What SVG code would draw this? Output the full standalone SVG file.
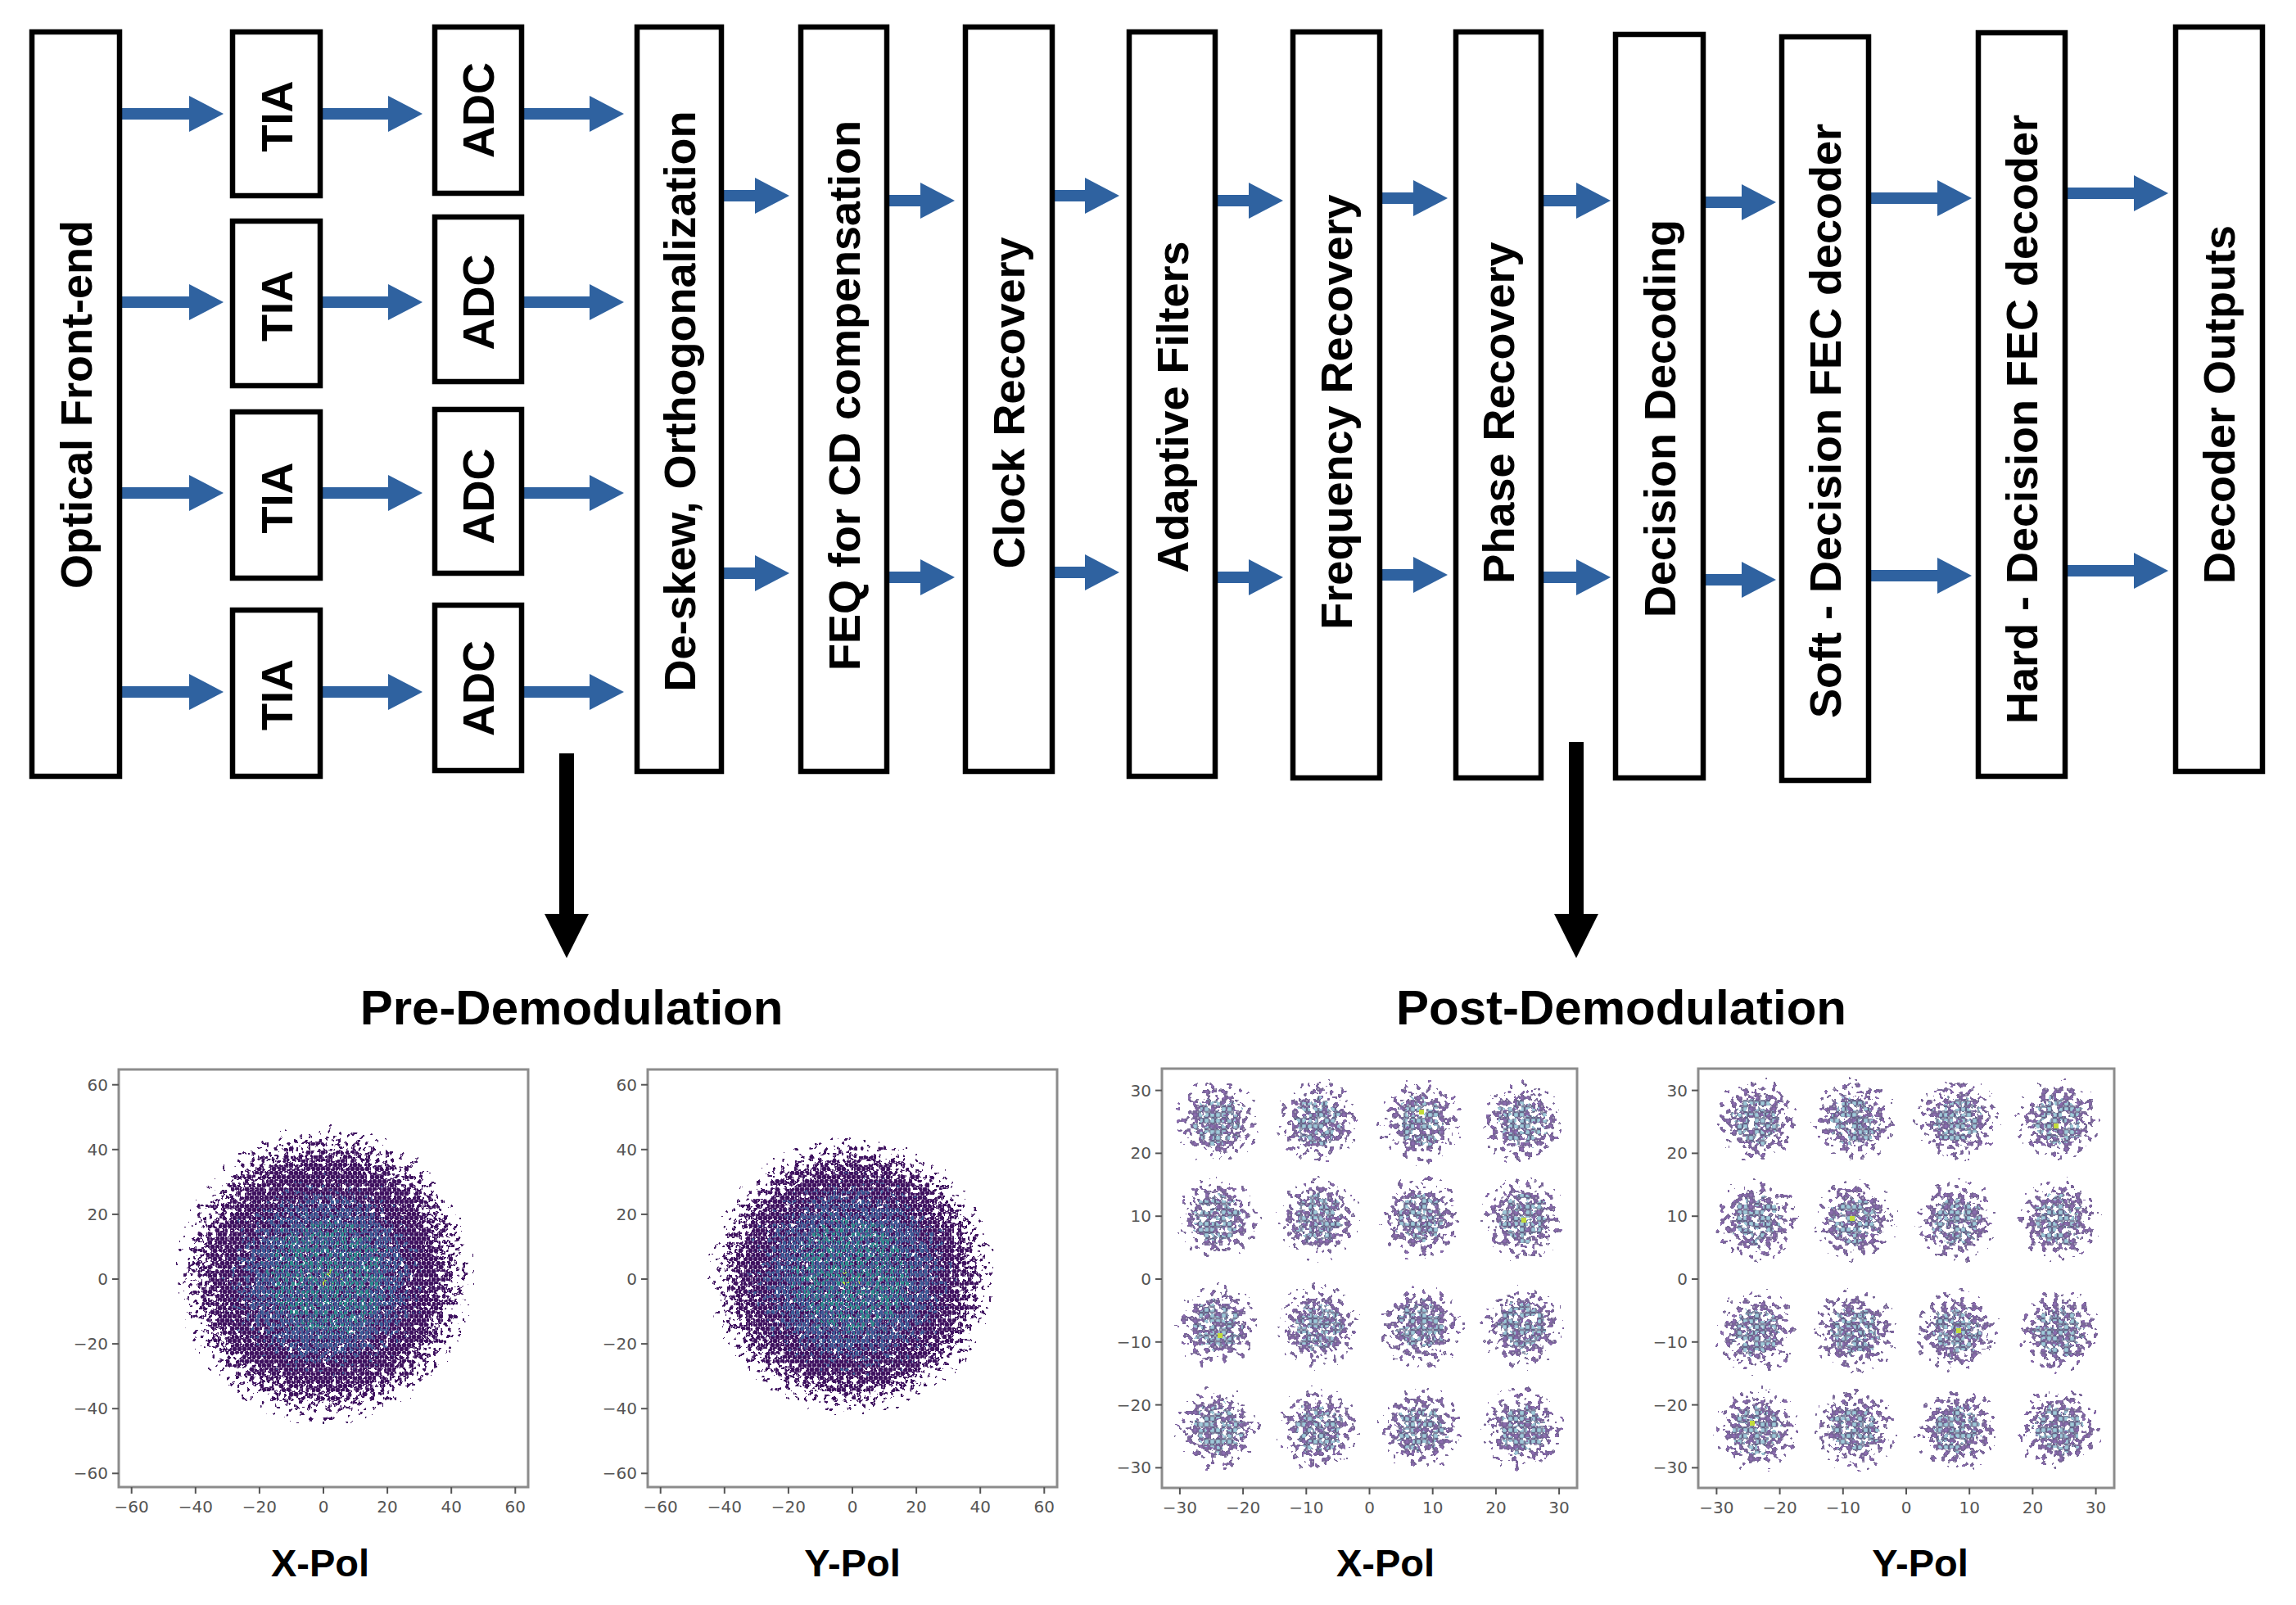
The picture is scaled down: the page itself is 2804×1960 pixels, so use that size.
<svg xmlns="http://www.w3.org/2000/svg" width="2804" height="1960" viewBox="0 0 2804 1960">
<style>
.box{fill:#fff;stroke:#000;stroke-width:6.5}
.lbl{font-family:"Liberation Sans",Arial,sans-serif;font-weight:bold;font-size:54px;fill:#000;text-anchor:middle}
.conn{stroke:#2f62a0;stroke-width:14;fill:none;marker-end:url(#ah)}
.down{stroke:#000;stroke-width:18;fill:none;marker-end:url(#bh)}
.tick{stroke:#555;stroke-width:2}
.tl{font-family:"DejaVu Sans",sans-serif;font-size:20px;fill:#555}
.tr{text-anchor:end}
.tc{text-anchor:middle}
.frame{fill:none;stroke:#8c8c8c;stroke-width:3}
.title{font-family:"Liberation Sans",Arial,sans-serif;font-weight:bold;font-size:60px;fill:#000;text-anchor:middle}
.pol{font-family:"Liberation Sans",Arial,sans-serif;font-weight:bold;font-size:47px;fill:#000;text-anchor:middle}
</style>
<defs>
<marker id="ah" markerUnits="userSpaceOnUse" markerWidth="42" markerHeight="44" viewBox="0 0 42 44" refX="1" refY="22" orient="auto"><path d="M0,0 L42,22 L0,44 Z" fill="#2f62a0"/></marker>
<marker id="bh" markerUnits="userSpaceOnUse" markerWidth="54" markerHeight="54" viewBox="0 0 54 54" refX="1" refY="27" orient="auto"><path d="M0,0 L54,27 L0,54 Z" fill="#000"/></marker>
<radialGradient id="gOut"><stop offset="0" stop-color="#fff" stop-opacity="1"/><stop offset="0.66" stop-color="#fff" stop-opacity="1"/><stop offset="0.85" stop-color="#fff" stop-opacity="0.5"/><stop offset="1" stop-color="#fff" stop-opacity="0"/></radialGradient>
<radialGradient id="gMid"><stop offset="0" stop-color="#fff" stop-opacity="1"/><stop offset="0.55" stop-color="#fff" stop-opacity="0.95"/><stop offset="1" stop-color="#fff" stop-opacity="0"/></radialGradient>
<radialGradient id="gIn"><stop offset="0" stop-color="#fff" stop-opacity="1"/><stop offset="1" stop-color="#fff" stop-opacity="0"/></radialGradient>
<radialGradient id="gPost"><stop offset="0" stop-color="#fff" stop-opacity="1"/><stop offset="0.5" stop-color="#fff" stop-opacity="0.9"/><stop offset="0.78" stop-color="#fff" stop-opacity="0.55"/><stop offset="1" stop-color="#fff" stop-opacity="0"/></radialGradient>
<filter id="fA" color-interpolation-filters="sRGB"><feTurbulence type="fractalNoise" baseFrequency="0.17" numOctaves="2" seed="2" result="n"/><feColorMatrix in="n" type="matrix" values="0 0 0 0 0 0 0 0 0 0 0 0 0 0 0 2.2 0 0 0 -0.6" result="na"/><feComposite in="SourceAlpha" in2="na" operator="arithmetic" k1="0" k2="1" k3="1" k4="-0.6" result="c"/><feComponentTransfer in="c"><feFuncR type="linear" slope="0" intercept="1"/><feFuncG type="linear" slope="0" intercept="1"/><feFuncB type="linear" slope="0" intercept="1"/><feFuncA type="discrete" tableValues="0 1"/></feComponentTransfer></filter>
<filter id="fB" color-interpolation-filters="sRGB"><feTurbulence type="fractalNoise" baseFrequency="0.17" numOctaves="2" seed="5" result="n"/><feColorMatrix in="n" type="matrix" values="0 0 0 0 0 0 0 0 0 0 0 0 0 0 0 1.6 0 0 0 -0.3" result="na"/><feComposite in="SourceAlpha" in2="na" operator="arithmetic" k1="0" k2="1" k3="1" k4="-0.85" result="c"/><feComponentTransfer in="c"><feFuncR type="linear" slope="0" intercept="1"/><feFuncG type="linear" slope="0" intercept="1"/><feFuncB type="linear" slope="0" intercept="1"/><feFuncA type="discrete" tableValues="0 1"/></feComponentTransfer></filter>
<filter id="fC" color-interpolation-filters="sRGB"><feTurbulence type="fractalNoise" baseFrequency="0.17" numOctaves="2" seed="9" result="n"/><feColorMatrix in="n" type="matrix" values="0 0 0 0 0 0 0 0 0 0 0 0 0 0 0 1.6 0 0 0 -0.3" result="na"/><feComposite in="SourceAlpha" in2="na" operator="arithmetic" k1="0" k2="1" k3="1" k4="-1.0" result="c"/><feComponentTransfer in="c"><feFuncR type="linear" slope="0" intercept="1"/><feFuncG type="linear" slope="0" intercept="1"/><feFuncB type="linear" slope="0" intercept="1"/><feFuncA type="discrete" tableValues="0 1"/></feComponentTransfer></filter>
<filter id="fD" color-interpolation-filters="sRGB"><feTurbulence type="fractalNoise" baseFrequency="0.17" numOctaves="2" seed="13" result="n"/><feColorMatrix in="n" type="matrix" values="0 0 0 0 0 0 0 0 0 0 0 0 0 0 0 1.6 0 0 0 -0.3" result="na"/><feComposite in="SourceAlpha" in2="na" operator="arithmetic" k1="0" k2="1" k3="1" k4="-1.2" result="c"/><feComponentTransfer in="c"><feFuncR type="linear" slope="0" intercept="1"/><feFuncG type="linear" slope="0" intercept="1"/><feFuncB type="linear" slope="0" intercept="1"/><feFuncA type="discrete" tableValues="0 1"/></feComponentTransfer></filter>
<filter id="fE" color-interpolation-filters="sRGB"><feTurbulence type="fractalNoise" baseFrequency="0.14" numOctaves="2" seed="21" result="n"/><feColorMatrix in="n" type="matrix" values="0 0 0 0 0 0 0 0 0 0 0 0 0 0 0 2.0 0 0 0 -0.5" result="na"/><feComposite in="SourceAlpha" in2="na" operator="arithmetic" k1="0" k2="1" k3="1" k4="-0.9" result="c"/><feComponentTransfer in="c"><feFuncR type="linear" slope="0" intercept="1"/><feFuncG type="linear" slope="0" intercept="1"/><feFuncB type="linear" slope="0" intercept="1"/><feFuncA type="discrete" tableValues="0 1"/></feComponentTransfer></filter>
<filter id="fF" color-interpolation-filters="sRGB"><feTurbulence type="fractalNoise" baseFrequency="0.14" numOctaves="2" seed="27" result="n"/><feColorMatrix in="n" type="matrix" values="0 0 0 0 0 0 0 0 0 0 0 0 0 0 0 1.6 0 0 0 -0.3" result="na"/><feComposite in="SourceAlpha" in2="na" operator="arithmetic" k1="0" k2="1" k3="1" k4="-0.95" result="c"/><feComponentTransfer in="c"><feFuncR type="linear" slope="0" intercept="1"/><feFuncG type="linear" slope="0" intercept="1"/><feFuncB type="linear" slope="0" intercept="1"/><feFuncA type="discrete" tableValues="0 1"/></feComponentTransfer></filter>
<pattern id="pPreP" width="6" height="10" patternUnits="userSpaceOnUse"><circle cx="1.5" cy="2.5" r="2.9" fill="#3f1260"/><circle cx="4.5" cy="7.5" r="2.9" fill="#3f1260"/><circle cx="7.5" cy="2.5" r="2.9" fill="#3f1260"/><circle cx="-1.5" cy="7.5" r="2.9" fill="#3f1260"/></pattern>
<pattern id="pPreB" width="6" height="10" patternUnits="userSpaceOnUse"><circle cx="1.5" cy="2.5" r="2.7" fill="#3a5b95"/><circle cx="4.5" cy="7.5" r="2.7" fill="#3a5b95"/></pattern>
<pattern id="pPreT" width="6" height="10" patternUnits="userSpaceOnUse"><circle cx="1.5" cy="2.5" r="2.7" fill="#2a8c8c"/><circle cx="4.5" cy="7.5" r="2.7" fill="#2a8c8c"/></pattern>
<pattern id="pPreY" width="6" height="10" patternUnits="userSpaceOnUse"><circle cx="1.5" cy="2.5" r="2.7" fill="#8fd04a"/><circle cx="4.5" cy="7.5" r="2.7" fill="#b9dc3a"/></pattern>
<pattern id="pPostP" width="7" height="7" patternUnits="userSpaceOnUse"><rect x="0.75" y="0.75" width="5.5" height="5.5" fill="#8a6dac" stroke="#4e3a74" stroke-width="0.9"/></pattern>
<pattern id="pPostT" width="7" height="7" patternUnits="userSpaceOnUse"><rect x="0.75" y="0.75" width="5.5" height="5.5" fill="#9fc9d8" stroke="#55557a" stroke-width="0.9"/></pattern>
<mask id="mP1a"><g filter="url(#fA)"><ellipse cx="397" cy="1557" rx="188" ry="190" fill="url(#gOut)"/></g></mask>
<mask id="mP1b"><g filter="url(#fB)"><ellipse cx="397" cy="1560" rx="160" ry="160" fill="url(#gMid)"/></g></mask>
<mask id="mP1c"><g filter="url(#fC)"><ellipse cx="400" cy="1560" rx="115" ry="115" fill="url(#gMid)"/></g></mask>
<mask id="mP1d"><g filter="url(#fD)"><ellipse cx="400" cy="1560" rx="80" ry="80" fill="url(#gIn)"/></g></mask>
<mask id="mP2a"><g filter="url(#fA)"><ellipse cx="1040" cy="1558" rx="182" ry="176" fill="url(#gOut)"/></g></mask>
<mask id="mP2b"><g filter="url(#fB)"><ellipse cx="1040" cy="1558" rx="165" ry="160" fill="url(#gMid)"/></g></mask>
<mask id="mP2c"><g filter="url(#fC)"><ellipse cx="1040" cy="1558" rx="115" ry="115" fill="url(#gMid)"/></g></mask>
<mask id="mP2d"><g filter="url(#fD)"><ellipse cx="1040" cy="1558" rx="80" ry="80" fill="url(#gIn)"/></g></mask>
<mask id="mQ3a"><g filter="url(#fE)" fill="url(#gPost)">
<circle cx="1487" cy="1370" r="64"/><circle cx="1610" cy="1370" r="64"/><circle cx="1735" cy="1370" r="64"/><circle cx="1860" cy="1370" r="64"/>
<circle cx="1487" cy="1488" r="64"/><circle cx="1610" cy="1488" r="64"/><circle cx="1735" cy="1488" r="64"/><circle cx="1860" cy="1488" r="64"/>
<circle cx="1487" cy="1620" r="64"/><circle cx="1610" cy="1620" r="64"/><circle cx="1735" cy="1620" r="64"/><circle cx="1860" cy="1620" r="64"/>
<circle cx="1487" cy="1745" r="64"/><circle cx="1610" cy="1745" r="64"/><circle cx="1735" cy="1745" r="64"/><circle cx="1860" cy="1745" r="64"/>
</g></mask>
<mask id="mQ3b"><g filter="url(#fF)" fill="url(#gMid)">
<circle cx="1487" cy="1370" r="45"/><circle cx="1610" cy="1370" r="45"/><circle cx="1735" cy="1370" r="45"/><circle cx="1860" cy="1370" r="45"/>
<circle cx="1487" cy="1488" r="45"/><circle cx="1610" cy="1488" r="45"/><circle cx="1735" cy="1488" r="45"/><circle cx="1860" cy="1488" r="45"/>
<circle cx="1487" cy="1620" r="45"/><circle cx="1610" cy="1620" r="45"/><circle cx="1735" cy="1620" r="45"/><circle cx="1860" cy="1620" r="45"/>
<circle cx="1487" cy="1745" r="45"/><circle cx="1610" cy="1745" r="45"/><circle cx="1735" cy="1745" r="45"/><circle cx="1860" cy="1745" r="45"/>
</g></mask>
<mask id="mQ4a"><g filter="url(#fE)" fill="url(#gPost)">
<circle cx="2145" cy="1368" r="64"/><circle cx="2265" cy="1368" r="64"/><circle cx="2390" cy="1368" r="64"/><circle cx="2514" cy="1368" r="64"/>
<circle cx="2145" cy="1490" r="64"/><circle cx="2265" cy="1490" r="64"/><circle cx="2390" cy="1490" r="64"/><circle cx="2514" cy="1490" r="64"/>
<circle cx="2145" cy="1626" r="64"/><circle cx="2265" cy="1626" r="64"/><circle cx="2390" cy="1626" r="64"/><circle cx="2514" cy="1626" r="64"/>
<circle cx="2145" cy="1745" r="64"/><circle cx="2265" cy="1745" r="64"/><circle cx="2390" cy="1745" r="64"/><circle cx="2514" cy="1745" r="64"/>
</g></mask>
<mask id="mQ4b"><g filter="url(#fF)" fill="url(#gMid)">
<circle cx="2145" cy="1368" r="45"/><circle cx="2265" cy="1368" r="45"/><circle cx="2390" cy="1368" r="45"/><circle cx="2514" cy="1368" r="45"/>
<circle cx="2145" cy="1490" r="45"/><circle cx="2265" cy="1490" r="45"/><circle cx="2390" cy="1490" r="45"/><circle cx="2514" cy="1490" r="45"/>
<circle cx="2145" cy="1626" r="45"/><circle cx="2265" cy="1626" r="45"/><circle cx="2390" cy="1626" r="45"/><circle cx="2514" cy="1626" r="45"/>
<circle cx="2145" cy="1745" r="45"/><circle cx="2265" cy="1745" r="45"/><circle cx="2390" cy="1745" r="45"/><circle cx="2514" cy="1745" r="45"/>
</g></mask>
</defs>
<rect x="0" y="0" width="2804" height="1960" fill="#fff"/>

<g id="connectors">
<line class="conn" x1="146" y1="139" x2="232" y2="139"/>
<line class="conn" x1="146" y1="369" x2="232" y2="369"/>
<line class="conn" x1="146" y1="602" x2="232" y2="602"/>
<line class="conn" x1="146" y1="845" x2="232" y2="845"/>
<line class="conn" x1="391" y1="139" x2="475" y2="139"/>
<line class="conn" x1="391" y1="369" x2="475" y2="369"/>
<line class="conn" x1="391" y1="602" x2="475" y2="602"/>
<line class="conn" x1="391" y1="845" x2="475" y2="845"/>
<line class="conn" x1="637" y1="139" x2="721" y2="139"/>
<line class="conn" x1="637" y1="369" x2="721" y2="369"/>
<line class="conn" x1="637" y1="602" x2="721" y2="602"/>
<line class="conn" x1="637" y1="845" x2="721" y2="845"/>
<line class="conn" x1="881" y1="239" x2="923" y2="239"/>
<line class="conn" x1="881" y1="700" x2="923" y2="700"/>
<line class="conn" x1="1083" y1="245" x2="1125" y2="245"/>
<line class="conn" x1="1083" y1="705" x2="1125" y2="705"/>
<line class="conn" x1="1285" y1="239" x2="1326" y2="239"/>
<line class="conn" x1="1285" y1="699" x2="1326" y2="699"/>
<line class="conn" x1="1484" y1="245" x2="1526" y2="245"/>
<line class="conn" x1="1484" y1="705" x2="1526" y2="705"/>
<line class="conn" x1="1685" y1="242" x2="1727" y2="242"/>
<line class="conn" x1="1685" y1="702" x2="1727" y2="702"/>
<line class="conn" x1="1882" y1="245" x2="1926" y2="245"/>
<line class="conn" x1="1882" y1="705" x2="1926" y2="705"/>
<line class="conn" x1="2080" y1="247" x2="2128" y2="247"/>
<line class="conn" x1="2080" y1="708" x2="2128" y2="708"/>
<line class="conn" x1="2282" y1="242" x2="2367" y2="242"/>
<line class="conn" x1="2282" y1="703" x2="2367" y2="703"/>
<line class="conn" x1="2522" y1="236" x2="2607" y2="236"/>
<line class="conn" x1="2522" y1="697" x2="2607" y2="697"/>
<line class="down" x1="692" y1="920" x2="692" y2="1117"/>
<line class="down" x1="1925" y1="906" x2="1925" y2="1117"/>
</g>

<g id="optical-front-end"><rect class="box" x="39" y="39" width="107" height="909"/><text class="lbl" transform="translate(111.5,494) rotate(-90)">Optical Front-end</text></g>
<g id="tia-1"><rect class="box" x="284" y="39" width="107" height="200"/><text class="lbl" transform="translate(356.5,142) rotate(-90)">TIA</text></g>
<g id="tia-2"><rect class="box" x="284" y="270" width="107" height="201"/><text class="lbl" transform="translate(356.5,373.5) rotate(-90)">TIA</text></g>
<g id="tia-3"><rect class="box" x="284" y="503" width="107" height="203"/><text class="lbl" transform="translate(356.5,608) rotate(-90)">TIA</text></g>
<g id="tia-4"><rect class="box" x="284" y="745" width="107" height="203"/><text class="lbl" transform="translate(356.5,848.5) rotate(-90)">TIA</text></g>
<g id="adc-1"><rect class="box" x="531" y="33" width="106" height="203"/><text class="lbl" transform="translate(603,134.5) rotate(-90)">ADC</text></g>
<g id="adc-2"><rect class="box" x="531" y="265" width="106" height="201"/><text class="lbl" transform="translate(603,369) rotate(-90)">ADC</text></g>
<g id="adc-3"><rect class="box" x="531" y="500" width="106" height="200"/><text class="lbl" transform="translate(603,606) rotate(-90)">ADC</text></g>
<g id="adc-4"><rect class="box" x="531" y="739" width="106" height="202"/><text class="lbl" transform="translate(603,840.5) rotate(-90)">ADC</text></g>
<g id="deskew"><rect class="box" x="778" y="33" width="103" height="909"/><text class="lbl" transform="translate(848.5,490) rotate(-90)">De-skew, Orthogonalization</text></g>
<g id="feq"><rect class="box" x="978" y="33" width="105" height="909"/><text class="lbl" transform="translate(1049.5,483) rotate(-90)">FEQ for CD compensation</text></g>
<g id="clock-recovery"><rect class="box" x="1179" y="33" width="106" height="909"/><text class="lbl" transform="translate(1251,492) rotate(-90)">Clock Recovery</text></g>
<g id="adaptive-filters"><rect class="box" x="1379" y="39" width="105" height="909"/><text class="lbl" transform="translate(1450.5,497) rotate(-90)">Adaptive Filters</text></g>
<g id="frequency-recovery"><rect class="box" x="1579" y="39" width="106" height="911"/><text class="lbl" transform="translate(1651,503) rotate(-90)">Frequency Recovery</text></g>
<g id="phase-recovery"><rect class="box" x="1778" y="39" width="104" height="911"/><text class="lbl" transform="translate(1849,504) rotate(-90)">Phase Recovery</text></g>
<g id="decision-decoding"><rect class="box" x="1973" y="42" width="107" height="908"/><text class="lbl" transform="translate(2045.5,511) rotate(-90)">Decision Decoding</text></g>
<g id="soft-fec"><rect class="box" x="2176" y="45" width="106" height="908"/><text class="lbl" transform="translate(2248,514) rotate(-90)">Soft - Decision FEC decoder</text></g>
<g id="hard-fec"><rect class="box" x="2416" y="40" width="106" height="908"/><text class="lbl" transform="translate(2488,512) rotate(-90)">Hard - Decision FEC decoder</text></g>
<g id="decoder-outputs"><rect class="box" x="2657" y="33" width="106" height="909"/><text class="lbl" transform="translate(2729,494) rotate(-90)">Decoder Outputs</text></g>

<text class="title" x="698" y="1251">Pre-Demodulation</text>
<text class="title" x="1980" y="1251">Post-Demodulation</text>

<g id="plot-pre-x">
<rect x="145" y="1306" width="500" height="510" fill="#fff"/>
<rect x="145" y="1306" width="500" height="510" fill="url(#pPreP)" mask="url(#mP1a)"/>
<rect x="145" y="1306" width="500" height="510" fill="url(#pPreB)" mask="url(#mP1b)"/>
<rect x="145" y="1306" width="500" height="510" fill="url(#pPreT)" mask="url(#mP1c)"/>
<rect x="145" y="1306" width="500" height="510" fill="url(#pPreY)" mask="url(#mP1d)"/>
<rect class="frame" x="145" y="1306" width="500" height="510"/>
<g class="tick"><line x1="137" y1="1324.7" x2="145" y2="1324.7"/><line x1="137" y1="1403.8" x2="145" y2="1403.8"/><line x1="137" y1="1482.9" x2="145" y2="1482.9"/><line x1="137" y1="1562" x2="145" y2="1562"/><line x1="137" y1="1641.1" x2="145" y2="1641.1"/><line x1="137" y1="1720.2" x2="145" y2="1720.2"/><line x1="137" y1="1799.3" x2="145" y2="1799.3"/>
<line x1="160.7" y1="1816" x2="160.7" y2="1824"/><line x1="238.8" y1="1816" x2="238.8" y2="1824"/><line x1="316.9" y1="1816" x2="316.9" y2="1824"/><line x1="395" y1="1816" x2="395" y2="1824"/><line x1="473.1" y1="1816" x2="473.1" y2="1824"/><line x1="551.2" y1="1816" x2="551.2" y2="1824"/><line x1="629.3" y1="1816" x2="629.3" y2="1824"/></g>
<g class="tl tr"><text x="132" y="1331.7">60</text><text x="132" y="1410.8">40</text><text x="132" y="1489.9">20</text><text x="132" y="1569">0</text><text x="132" y="1648.1">−20</text><text x="132" y="1727.2">−40</text><text x="132" y="1806.3">−60</text></g>
<g class="tl tc"><text x="160.7" y="1847">−60</text><text x="238.8" y="1847">−40</text><text x="316.9" y="1847">−20</text><text x="395" y="1847">0</text><text x="473.1" y="1847">20</text><text x="551.2" y="1847">40</text><text x="629.3" y="1847">60</text></g>
<text class="pol" x="391" y="1925">X-Pol</text>
</g>

<g id="plot-pre-y">
<rect x="791" y="1306" width="500" height="510" fill="#fff"/>
<rect x="791" y="1306" width="500" height="510" fill="url(#pPreP)" mask="url(#mP2a)"/>
<rect x="791" y="1306" width="500" height="510" fill="url(#pPreB)" mask="url(#mP2b)"/>
<rect x="791" y="1306" width="500" height="510" fill="url(#pPreT)" mask="url(#mP2c)"/>
<rect x="791" y="1306" width="500" height="510" fill="url(#pPreY)" mask="url(#mP2d)"/>
<rect class="frame" x="791" y="1306" width="500" height="510"/>
<g class="tick"><line x1="783" y1="1324.7" x2="791" y2="1324.7"/><line x1="783" y1="1403.8" x2="791" y2="1403.8"/><line x1="783" y1="1482.9" x2="791" y2="1482.9"/><line x1="783" y1="1562" x2="791" y2="1562"/><line x1="783" y1="1641.1" x2="791" y2="1641.1"/><line x1="783" y1="1720.2" x2="791" y2="1720.2"/><line x1="783" y1="1799.3" x2="791" y2="1799.3"/>
<line x1="806.7" y1="1816" x2="806.7" y2="1824"/><line x1="884.8" y1="1816" x2="884.8" y2="1824"/><line x1="962.9" y1="1816" x2="962.9" y2="1824"/><line x1="1041" y1="1816" x2="1041" y2="1824"/><line x1="1119.1" y1="1816" x2="1119.1" y2="1824"/><line x1="1197.2" y1="1816" x2="1197.2" y2="1824"/><line x1="1275.3" y1="1816" x2="1275.3" y2="1824"/></g>
<g class="tl tr"><text x="778" y="1331.7">60</text><text x="778" y="1410.8">40</text><text x="778" y="1489.9">20</text><text x="778" y="1569">0</text><text x="778" y="1648.1">−20</text><text x="778" y="1727.2">−40</text><text x="778" y="1806.3">−60</text></g>
<g class="tl tc"><text x="806.7" y="1847">−60</text><text x="884.8" y="1847">−40</text><text x="962.9" y="1847">−20</text><text x="1041" y="1847">0</text><text x="1119.1" y="1847">20</text><text x="1197.2" y="1847">40</text><text x="1275.3" y="1847">60</text></g>
<text class="pol" x="1041" y="1925">Y-Pol</text>
</g>

<g id="plot-post-x">
<rect x="1419" y="1305" width="507" height="512" fill="#fff"/>
<rect x="1419" y="1305" width="507" height="512" fill="url(#pPostP)" mask="url(#mQ3a)"/>
<rect x="1419" y="1305" width="507" height="512" fill="url(#pPostT)" mask="url(#mQ3b)"/>
<g fill="#c3dc3c"><rect x="1858" y="1487" width="6" height="6"/><rect x="1487" y="1628" width="6" height="6"/><rect x="1733" y="1355" width="6" height="6"/></g>
<rect class="frame" x="1419" y="1305" width="507" height="512"/>
<g class="tick"><line x1="1411" y1="1331.6" x2="1419" y2="1331.6"/><line x1="1411" y1="1408.4" x2="1419" y2="1408.4"/><line x1="1411" y1="1485.2" x2="1419" y2="1485.2"/><line x1="1411" y1="1562" x2="1419" y2="1562"/><line x1="1411" y1="1638.8" x2="1419" y2="1638.8"/><line x1="1411" y1="1715.6" x2="1419" y2="1715.6"/><line x1="1411" y1="1792.4" x2="1419" y2="1792.4"/>
<line x1="1440.9" y1="1817" x2="1440.9" y2="1825"/><line x1="1518.1" y1="1817" x2="1518.1" y2="1825"/><line x1="1595.3" y1="1817" x2="1595.3" y2="1825"/><line x1="1672.5" y1="1817" x2="1672.5" y2="1825"/><line x1="1749.7" y1="1817" x2="1749.7" y2="1825"/><line x1="1826.9" y1="1817" x2="1826.9" y2="1825"/><line x1="1904.1" y1="1817" x2="1904.1" y2="1825"/></g>
<g class="tl tr"><text x="1406" y="1338.6">30</text><text x="1406" y="1415.4">20</text><text x="1406" y="1492.2">10</text><text x="1406" y="1569">0</text><text x="1406" y="1645.8">−10</text><text x="1406" y="1722.6">−20</text><text x="1406" y="1799.4">−30</text></g>
<g class="tl tc"><text x="1440.9" y="1848">−30</text><text x="1518.1" y="1848">−20</text><text x="1595.3" y="1848">−10</text><text x="1672.5" y="1848">0</text><text x="1749.7" y="1848">10</text><text x="1826.9" y="1848">20</text><text x="1904.1" y="1848">30</text></g>
<text class="pol" x="1692" y="1925">X-Pol</text>
</g>

<g id="plot-post-y">
<rect x="2074" y="1305" width="508" height="512" fill="#fff"/>
<rect x="2074" y="1305" width="508" height="512" fill="url(#pPostP)" mask="url(#mQ4a)"/>
<rect x="2074" y="1305" width="508" height="512" fill="url(#pPostT)" mask="url(#mQ4b)"/>
<g fill="#c3dc3c"><rect x="2259" y="1485" width="6" height="6"/><rect x="2389" y="1622" width="6" height="6"/><rect x="2137" y="1735" width="6" height="6"/><rect x="2508" y="1372" width="6" height="6"/></g>
<rect class="frame" x="2074" y="1305" width="508" height="512"/>
<g class="tick"><line x1="2066" y1="1331.6" x2="2074" y2="1331.6"/><line x1="2066" y1="1408.4" x2="2074" y2="1408.4"/><line x1="2066" y1="1485.2" x2="2074" y2="1485.2"/><line x1="2066" y1="1562" x2="2074" y2="1562"/><line x1="2066" y1="1638.8" x2="2074" y2="1638.8"/><line x1="2066" y1="1715.6" x2="2074" y2="1715.6"/><line x1="2066" y1="1792.4" x2="2074" y2="1792.4"/>
<line x1="2096.4" y1="1817" x2="2096.4" y2="1825"/><line x1="2173.6" y1="1817" x2="2173.6" y2="1825"/><line x1="2250.8" y1="1817" x2="2250.8" y2="1825"/><line x1="2328" y1="1817" x2="2328" y2="1825"/><line x1="2405.2" y1="1817" x2="2405.2" y2="1825"/><line x1="2482.4" y1="1817" x2="2482.4" y2="1825"/><line x1="2559.6" y1="1817" x2="2559.6" y2="1825"/></g>
<g class="tl tr"><text x="2061" y="1338.6">30</text><text x="2061" y="1415.4">20</text><text x="2061" y="1492.2">10</text><text x="2061" y="1569">0</text><text x="2061" y="1645.8">−10</text><text x="2061" y="1722.6">−20</text><text x="2061" y="1799.4">−30</text></g>
<g class="tl tc"><text x="2096.4" y="1848">−30</text><text x="2173.6" y="1848">−20</text><text x="2250.8" y="1848">−10</text><text x="2328" y="1848">0</text><text x="2405.2" y="1848">10</text><text x="2482.4" y="1848">20</text><text x="2559.6" y="1848">30</text></g>
<text class="pol" x="2345" y="1925">Y-Pol</text>
</g>
</svg>
